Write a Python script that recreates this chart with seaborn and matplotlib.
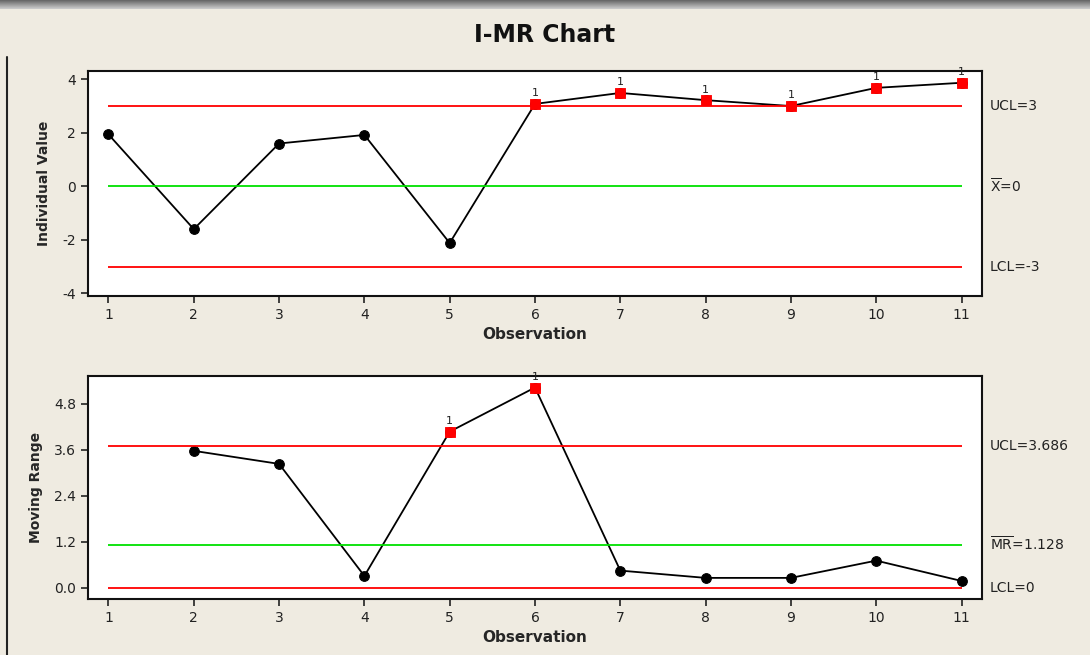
import numpy as np
import pandas as pd
import matplotlib.pyplot as plt
import seaborn as sns
from matplotlib.lines import Line2D

# I 차트 데이터
obs = list(range(1, 12))
ind_values = [1.94, -1.6, 1.6, 1.92, -2.12, 3.08, 3.49, 3.22, 3.0, 3.68, 3.87]
ind_flagged = [6, 7, 8, 9, 10, 11]
ind_ucl, ind_cl, ind_lcl = 3, 0, -3

# MR 차트 데이터
mr_obs = list(range(2, 12))
mr_values = [3.57, 3.23, 0.31, 4.07, 5.22, 0.45, 0.26, 0.26, 0.71, 0.18]
mr_flagged = [5, 6]
mr_ucl, mr_cl, mr_lcl = 3.686, 1.128, 0

bg = '#efebe1'

sns.set_theme(style='white')
plt.rcParams['font.family'] = ['DejaVu Sans']
plt.rcParams['axes.unicode_minus'] = False

W, H = 1090, 655
fig = plt.figure(figsize=(W / 100, H / 100), dpi=100, facecolor=bg)

# 위쪽 회색 바
bar = fig.add_axes([0, 1 - 9 / H, 1, 9 / H])
bar.imshow(np.linspace(0.4, 0.8, 20).reshape(-1, 1), cmap='gray', aspect='auto',
           vmin=0, vmax=1, extent=[0, 1, 0, 1])
bar.axis('off')
# 왼쪽 테두리
fig.add_artist(Line2D([7 / W, 7 / W], [0, 1 - 57 / H], color='#222222', lw=1.5))

fig.text(0.5, 1 - 35 / H, 'I-MR Chart', ha='center', va='center',
         fontsize=17, fontweight='bold', color='#111111')


def draw_panel(ax, x, y, flagged, ucl, cl, lcl, labels):
    df = pd.DataFrame({'obs': x, 'val': y})
    sns.lineplot(data=df, x='obs', y='val', ax=ax, color='black', lw=1.3,
                 marker='o', markersize=7, markeredgecolor='black')
    bad = df[df['obs'].isin(flagged)]
    sns.scatterplot(data=bad, x='obs', y='val', ax=ax, marker='s', s=60,
                    color='#ff0000', edgecolor='#ff0000', zorder=5)
    for _, r in bad.iterrows():
        ax.annotate('1', (r['obs'], r['val']), xytext=(0, 4), textcoords='offset points',
                    ha='center', va='bottom', fontsize=8, color='#222222')
    ax.hlines([ucl, lcl], 1, 11, color='#ff0000', lw=1.3)
    ax.hlines(cl, 1, 11, color='#00e000', lw=1.3)
    tr = ax.get_yaxis_transform()
    for yv, lab in zip([ucl, cl, lcl], labels):
        ax.text(1.009, yv, lab, transform=tr, va='center', ha='left',
                fontsize=10, color='#222222')
    ax.set_xlim(0.76, 11.24)
    ax.set_xticks(obs)
    ax.set_facecolor('white')
    for s in ax.spines.values():
        s.set_color('#111111')
        s.set_linewidth(1.5)
    ax.tick_params(direction='out', length=5, width=1.2, labelsize=10,
                   colors='#222222', left=True, bottom=True)
    ax.set_xlabel('Observation', fontsize=11, fontweight='bold', labelpad=4)
    ax.grid(False)


ax1 = fig.add_axes([88 / W, 1 - 296 / H, 894 / W, 225 / H])
draw_panel(ax1, obs, ind_values, ind_flagged, ind_ucl, ind_cl, ind_lcl,
           ['UCL=3', r'$\overline{\mathrm{X}}$=0', 'LCL=-3'])
ax1.set_ylim(-4.1, 4.31)
ax1.set_yticks([-4, -2, 0, 2, 4])
ax1.set_ylabel('Individual Value', fontsize=10, fontweight='bold', labelpad=8)

ax2 = fig.add_axes([88 / W, 1 - 599 / H, 894 / W, 223 / H])
draw_panel(ax2, mr_obs, mr_values, mr_flagged, mr_ucl, mr_cl, mr_lcl,
           ['UCL=3.686', r'$\overline{\mathrm{MR}}$=1.128', 'LCL=0'])
ax2.set_ylim(-0.29, 5.52)
ax2.set_yticks([0.0, 1.2, 2.4, 3.6, 4.8])
ax2.set_yticklabels(['0.0', '1.2', '2.4', '3.6', '4.8'])
ax2.set_ylabel('Moving Range', fontsize=10, fontweight='bold', labelpad=8)

fig.savefig('out.png', dpi=100, facecolor=bg)
